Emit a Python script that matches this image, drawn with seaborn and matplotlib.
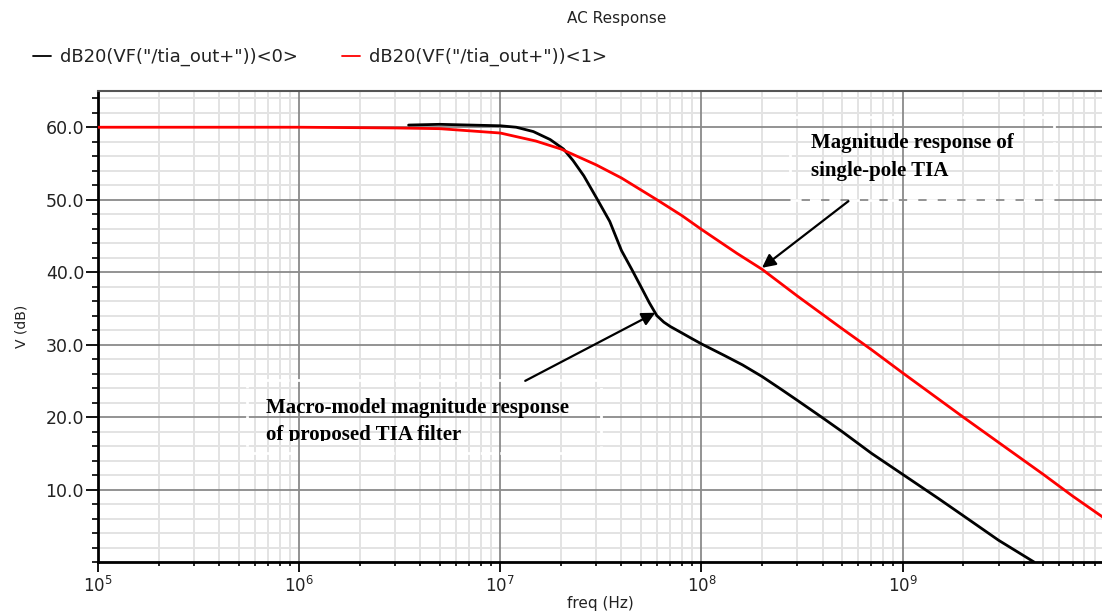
import numpy as np
import pandas as pd
import matplotlib
matplotlib.use("Agg")
import matplotlib.pyplot as plt
from matplotlib.lines import Line2D
from matplotlib.patches import Rectangle
from matplotlib.transforms import Bbox, TransformedBbox
from matplotlib.ticker import LogLocator, MultipleLocator, FixedLocator, NullFormatter
import seaborn as sns

# --- AC sweep results (frequency in Hz, magnitude in dB) ---
freq_filter = [3.5e6, 5e6, 1.0e7, 1.2e7, 1.46e7, 1.77e7, 2.06e7, 2.3e7, 2.6e7, 3.0e7,
               3.5e7, 4.0e7, 4.5e7, 5.0e7, 5.5e7, 6.0e7, 6.5e7, 7.0e7, 8.0e7, 9.0e7,
               1.0e8, 1.3e8, 1.6e8, 2.0e8, 2.5e8, 3.0e8, 4.0e8, 5.0e8, 7.0e8, 1.0e9,
               1.5e9, 2.0e9, 3.0e9, 4.5e9]
mag_filter = [60.3, 60.4, 60.2, 60.0, 59.4, 58.3, 57.0, 55.4, 53.3, 50.3,
              47.0, 43.0, 40.4, 38.0, 35.8, 34.0, 33.1, 32.5, 31.6, 30.8,
              30.1, 28.5, 27.2, 25.6, 23.8, 22.3, 19.9, 18.0, 15.0, 12.1,
              8.8, 6.4, 3.0, 0.0]

freq_single = [1e5, 1e6, 3e6, 5e6, 1e7, 1.5e7, 2e7, 3e7, 4e7, 6e7, 8e7, 1e8,
               1.5e8, 2e8, 3e8, 5e8, 7e8, 1e9, 2e9, 3e9, 5e9, 7e9, 1e10]
mag_single = [60.0, 60.0, 59.9, 59.8, 59.2, 58.1, 57.0, 54.8, 53.0, 50.0, 47.8, 45.9,
              42.6, 40.4, 36.7, 32.2, 29.3, 26.1, 20.0, 16.5, 12.1, 9.1, 6.1]

series_names = ['dB20(VF("/tia_out+"))<0>', 'dB20(VF("/tia_out+"))<1>']
series_colors = ["#000000", "#ff0000"]

x_decades = [1e5, 1e6, 1e7, 1e8, 1e9]
y_ticks = [10, 20, 30, 40, 50, 60]
y_tick_labels = ["10.0", "20.0", "30.0", "40.0", "50.0", "60.0"]

df = pd.concat([
    pd.DataFrame({"freq": freq_filter, "mag": mag_filter, "trace": series_names[0]}),
    pd.DataFrame({"freq": freq_single, "mag": mag_single, "trace": series_names[1]}),
], ignore_index=True)

sns.set_theme(style="white")
plt.rcParams["font.family"] = ["DejaVu Sans"]

fig = plt.figure(figsize=(11.02, 6.13), dpi=100)
ax = fig.add_axes([98 / 1102, 1 - 562 / 613, 1 - 98 / 1102, (562 - 91) / 613])

sns.lineplot(data=df, x="freq", y="mag", hue="trace", hue_order=series_names,
             palette=dict(zip(series_names, series_colors)), linewidth=2.0,
             estimator=None, sort=True, legend=False, ax=ax, zorder=3)

ax.set_xscale("log")
ax.set_xlim(1e5, 9.8e9)
ax.set_ylim(0, 65)

ax.xaxis.set_major_locator(FixedLocator(x_decades))
ax.xaxis.set_minor_locator(LogLocator(base=10, subs=np.arange(2, 10), numticks=100))
ax.xaxis.set_minor_formatter(NullFormatter())
ax.yaxis.set_major_locator(FixedLocator(y_ticks))
ax.set_yticklabels(y_tick_labels)
ax.yaxis.set_minor_locator(MultipleLocator(2))

# light minor grid underneath, darker decade / 10 dB lines on top of it
ax.grid(which="minor", color="#e3e3e3", linewidth=1.4, linestyle="-")
ax.grid(which="major", visible=False)
ax.set_axisbelow(True)
for xv in x_decades[1:]:
    ax.axvline(xv, color="#8a8a8a", linewidth=1.3, zorder=1)
for yv in y_ticks:
    ax.axhline(yv, color="#8a8a8a", linewidth=1.3, zorder=1)

for side in ("left", "bottom"):
    ax.spines[side].set_color("black")
    ax.spines[side].set_linewidth(2)
ax.spines["top"].set_color("#555555")
ax.spines["top"].set_linewidth(1.5)
ax.spines["right"].set_visible(False)

ax.tick_params(axis="y", which="major", direction="out", length=9, width=1.3,
               color="black", labelsize=12.5, pad=1, left=True)
ax.tick_params(axis="y", which="minor", direction="out", length=4, width=1.2,
               color="black", left=True)
ax.tick_params(axis="x", which="major", direction="out", length=7, width=1.3,
               color="black", labelsize=12, pad=3, bottom=True)
ax.tick_params(axis="x", which="minor", direction="out", length=3, width=1.2,
               color="black", bottom=True)
for lab in ax.get_yticklabels() + ax.get_xticklabels():
    lab.set_color("#222222")

ax.set_xlabel("freq (Hz)", fontsize=11, color="#222222", labelpad=0)
ax.set_ylabel("V (dB)", fontsize=10, color="#222222", labelpad=12)

fig.text(617 / 1102, 1 - 18 / 613, "AC Response", ha="center", va="center",
         fontsize=11, color="#222222")

# trace legend along the top
for name, color, x0 in zip(series_names, series_colors, [33 / 1102, 342 / 1102]):
    fig.legend(handles=[Line2D([], [], color=color, lw=1.3)], labels=[name],
               loc="center left", bbox_to_anchor=(x0, 1 - 57 / 613),
               frameon=False, fontsize=13, handlelength=1.0, handletextpad=0.5,
               borderaxespad=0, borderpad=0, labelcolor="#222222")

# callouts
serif = ["Liberation Serif", "DejaVu Serif"]
ax.add_patch(Rectangle((2.77e8, 50.0), 5.64e9 - 2.77e8, 11.4, fill=False,
                       edgecolor="white", linestyle=(0, (4, 3)), linewidth=2, zorder=2))
ax.add_patch(Rectangle((5.5e5, 15.1), 3.15e7 - 5.5e5, 10.0, fill=False,
                       edgecolor="white", linestyle=(0, (4, 3)), linewidth=2, zorder=2))

ax.text(3.52e8, 55.9, "Magnitude response of\nsingle-pole TIA", ha="left", va="center",
        fontsize=15, fontweight="bold", family=serif, linespacing=1.5, color="black",
        zorder=5)
ax.annotate("", xy=(2.0e8, 40.6), xytext=(5.38e8, 49.8),
            arrowprops=dict(arrowstyle="-|>", color="black", lw=1.6, mutation_scale=20,
                            shrinkA=0, shrinkB=0), zorder=5)

lower = ax.text(6.85e5, 19.4, "Macro-model magnitude response\nof proposed TIA filter",
                ha="left", va="center", fontsize=15, fontweight="bold", family=serif,
                linespacing=1.45, color="black", zorder=5)
lower.set_clip_box(TransformedBbox(Bbox([[0, (562 - 441) / 471], [1, 1]]), ax.transAxes))
lower.set_clip_on(True)
ax.annotate("", xy=(5.9e7, 34.4), xytext=(1.33e7, 25.0),
            arrowprops=dict(arrowstyle="-|>", color="black", lw=1.6, mutation_scale=20,
                            shrinkA=0, shrinkB=0), zorder=5)

fig.savefig("out.png", dpi=100)
